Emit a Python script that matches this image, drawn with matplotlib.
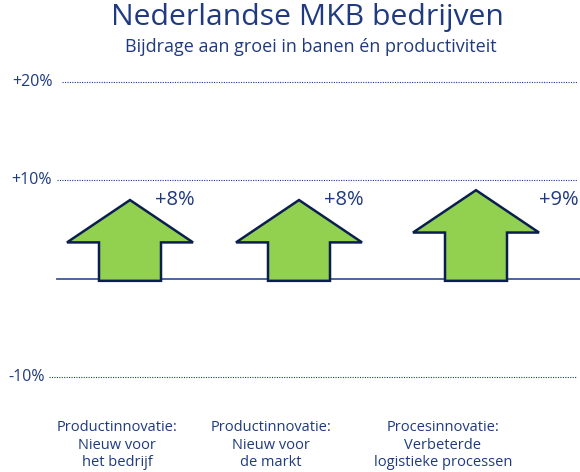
import matplotlib
matplotlib.use('Agg')
import matplotlib.pyplot as plt
from matplotlib.patches import Polygon

# data
categories = ['Productinnovatie:\nNieuw voor\nhet bedrijf',
              'Productinnovatie:\nNieuw voor\nde markt',
              'Procesinnovatie:\nVerbeterde\nlogistieke processen']
values = [8, 8, 9]
value_labels = ['+8%', '+8%', '+9%']
gridlines = [20, 10, -10]
grid_labels = ['+20%', '+10%', '-10%']

TEXT = '#1F3A80'
EDGE = '#0B1E4F'
GREEN = '#92D050'

plt.rcParams['font.family'] = ['Open Sans', 'DejaVu Sans']

fig = plt.figure(figsize=(5.8, 4.72), dpi=100)
ax = fig.add_axes([0, 0, 1, 1])
ax.set_xlim(0, 580)
ax.set_ylim(-19.6, 28.3)
ax.axis('off')

# layout (pixel-like x positions)
centers = [130, 299, 476]
label_x = [117, 271, 443]
value_x = [175, 344, 559]
grid_start = [62, 57, 49]
grid_label_x = [53, 52, 45]
head_half = 63
shaft_half = 31
head_h = 4.3

for y, lab, x0, lxr in zip(gridlines, grid_labels, grid_start, grid_label_x):
    ax.plot([x0, 577], [y, y], color=TEXT, lw=0.8, ls=(0, (1, 1.2)), zorder=1)
    ax.text(lxr, y, lab, ha='right', va='center', fontsize=11.5, color=TEXT)

ax.plot([57, 580], [0, 0], color='#3A5A9A', lw=1.3, zorder=1)

for cx, v, vl, cat, lx, vx in zip(centers, values, value_labels, categories,
                                  label_x, value_x):
    wing = v - head_h
    pts = [(cx, v), (cx + head_half, wing), (cx + shaft_half, wing),
           (cx + shaft_half, -0.2), (cx - shaft_half, -0.2),
           (cx - shaft_half, wing), (cx - head_half, wing)]
    ax.add_patch(Polygon(pts, closed=True, facecolor=GREEN, edgecolor=EDGE,
                         lw=1.8, joinstyle='miter', zorder=3))
    ax.text(vx, 8, vl, ha='center', va='center', fontsize=14.5, color=TEXT)
    ax.text(lx, -14.3, cat, ha='center', va='top', fontsize=10.5, color=TEXT,
            linespacing=1.25)

fig.text(0.53, 0.963, 'Nederlandse MKB bedrijven', ha='center', va='center',
         fontsize=21.7, color=TEXT)
fig.text(0.536, 0.901, 'Bijdrage aan groei in banen én productiviteit',
         ha='center', va='center', fontsize=13, color=TEXT)

fig.savefig('out.png', dpi=100)
